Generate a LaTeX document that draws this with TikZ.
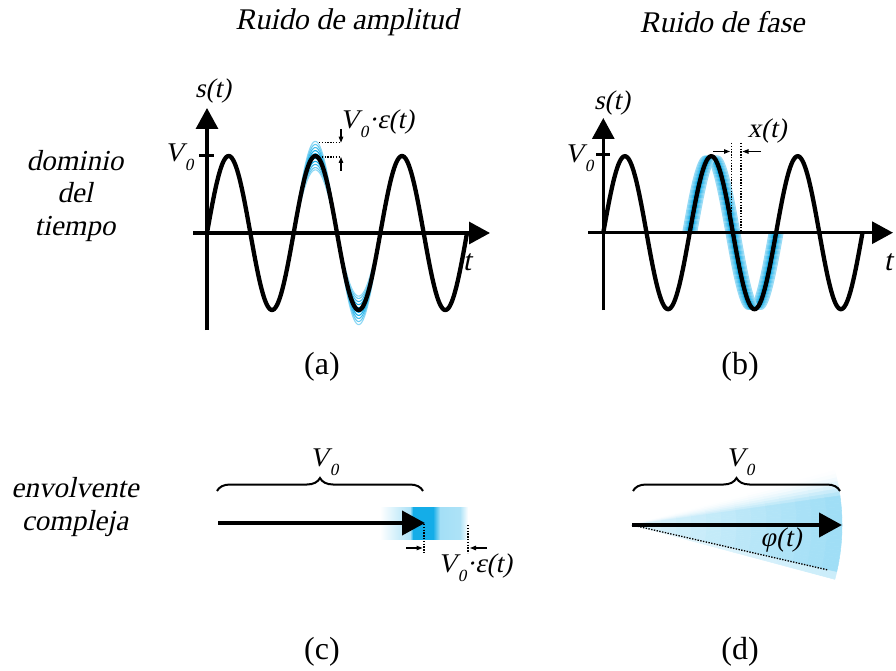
\documentclass[tikz,border=0pt]{standalone}
\usepackage{fontspec}
\setmainfont{Liberation Serif}[ItalicFont={Liberation Serif}, ItalicFeatures={FakeSlant=0.21}]
\usetikzlibrary{arrows.meta,decorations.pathreplacing}
\definecolor{nblue}{RGB}{0,166,230}
\newcommand{\Vz}{V\kern0.6pt\raisebox{-0.32em}{\fontsize{17}{17}\selectfont 0}}
\begin{document}
\begin{tikzpicture}[x=1pt,y=-1pt,
  axis/.style={line width=3.2pt,-{Triangle[length=21pt,width=22pt]}},
  wave/.style={line width=4.3pt},
  noisy/.style={line width=1.1pt},
  dots/.style={line width=1.3pt, dash pattern=on 1.4pt off 1.4pt},
  smallarr/.style={line width=1.1pt,-{Triangle[length=6pt,width=4.5pt]}},
  bigarr/.style={line width=4pt,-{Triangle[length=23pt,width=24pt]}},
  brc/.style={line width=2pt,decorate,decoration={brace,amplitude=13pt}},
  lbl/.style={inner sep=0pt, font=\fontsize{27}{30}\selectfont\itshape},
  title/.style={inner sep=0pt, font=\fontsize{30}{34}\selectfont\itshape},
  side/.style={inner sep=0pt, align=center, font=\fontsize{29}{32.5}\selectfont\itshape},
  panelcap/.style={inner sep=0pt, font=\fontsize{32}{36}\selectfont},
]
\useasboundingbox (0,0) rectangle (896,671);

% titles and side labels
\node[title] (t1) at (347,22) {Ruido de amplitud};
\node[title] (t2) at (722,22) {Ruido de fase};
\node[side] (dom) at (75,196) {dominio\\del\\tiempo};
\node[side] (env) at (75,507) {envolvente\\compleja};
\node[panelcap] (ca) at (322,367) {(a)};
\node[panelcap] (cb) at (740,367) {(b)};
\node[panelcap] (cc) at (322,652) {(c)};
\node[panelcap] (cd) at (740,652) {(d)};

% ---------- panel (a) ----------
\foreach \k/\c in {1.19/45,1.15/60,1.11/75,1.07/90,1.03/100,0.97/100,0.93/90,0.89/75,0.85/60,0.82/45}
  \draw[noisy,nblue!\c!white] plot[domain=360:720,samples=80,smooth,variable=\t] ({207+(\t/360)*86.67},{233-77*\k*sin(\t)});
\draw[wave] plot[domain=0:1080,samples=241,smooth,variable=\t] ({207+(\t/360)*86.67},{233-77*sin(\t)});
\draw[axis] (207,330) -- (207,108);
\draw[axis] (193,233) -- (490,233);
\draw[line width=3pt] (199,155.5) -- (214,155.5);
\node[lbl] (sa) at (213,91) {s(t)};
\node[lbl] (va) at (179,157) {\Vz};
\node[lbl,font=\fontsize{30}{32}\selectfont\itshape] (ta) at (467,262) {t};
\draw[dots] (319,142.7) -- (340,142.7);
\draw[dots] (319,157) -- (340,157);
\draw[smallarr] (341,129) -- (341,142.7);
\draw[smallarr] (341,171) -- (341,157);
\node[lbl] (ea) at (377,124) {\Vz·ε(t)};

% ---------- panel (b) ----------
\foreach \s/\c in {-7/40,-6/50,-5/60,-4/70,-3/85,-2/100,-1/100,1/100,2/100,3/85,4/70,5/60,6/50,7/40}
  \draw[noisy,nblue!\c!white] plot[domain=360:720,samples=80,smooth,variable=\t] ({603.3+\s+(\t/360)*86.4},{232.7-76.5*sin(\t)});
\draw[wave] plot[domain=0:1080,samples=241,smooth,variable=\t] ({603.3+(\t/360)*86.4},{232.7-76.5*sin(\t)});
\draw[axis] (603.3,310) -- (603.3,118);
\draw[axis] (588,232.7) -- (893,232.7);
\draw[line width=3pt] (596,155) -- (610,155);
\node[lbl] (sb) at (612,103) {s(t)};
\node[lbl] (vb) at (579,158) {\Vz};
\node[lbl,font=\fontsize{30}{32}\selectfont\itshape] (tb) at (888,262) {t};
\draw[dots] (731.7,143) -- (731.7,232);
\draw[dots] (741,143) -- (741,232);
\draw[smallarr] (713,151.5) -- (730,151.5);
\draw[smallarr] (761,151.5) -- (742.5,151.5);
\node[lbl] (xb) at (767,131) {x(t)};

% ---------- panel (c) ----------
\foreach \i in {0,...,87}{
  \pgfmathsetmacro\p{\i<30 ? 32*\i/30 : (\i<33 ? 32+(\i-30)*19 : (\i<53 ? 92 : (\i<60 ? 92-(\i-53)*8 : (\i<80 ? 36-(\i-60)*0.2 : 32*(88-\i)/8))))}
  \fill[nblue!\p!white] (380+\i,507) rectangle (381.3+\i,540);
}
\draw[brc] (217,491) -- (423,491);
\node[lbl] (vc) at (324,462) {\Vz};
\coordinate (c0) at (218,523);
\coordinate (c1) at (425,523);
\draw[bigarr] (c0) -- (c1);
\draw[dots] (424,524) -- (424,553);
\draw[dots] (468,525) -- (468,553);
\draw[smallarr] (406,548) -- (422.5,548);
\draw[smallarr] (487,548) -- (470,548);
\node[lbl] (ec) at (475,568) {\Vz·ε(t)};

% ---------- panel (d) ----------
\coordinate (o) at (632,525);
\foreach \a in {-16,...,14}{
  \pgfmathsetmacro\g{\a<-8 ? ((\a+16)/8)^2 : (\a<13 ? 1 : 0.55)}
  \foreach \r in {0,15,...,195}{
    \pgfmathsetmacro\p{38*\g*(0.35+0.65*(\r+7.5)/210)}
    \pgfmathsetmacro\aa{\a+1}
    \pgfmathsetmacro\rr{\r+15}
    \fill[nblue!\p!white,draw=nblue!\p!white,line width=0.5pt]
      ({632+\r*cos(\a)},{525+\r*sin(\a)}) -- ({632+\rr*cos(\a)},{525+\rr*sin(\a)})
      -- ({632+\rr*cos(\aa)},{525+\rr*sin(\aa)}) -- ({632+\r*cos(\aa)},{525+\r*sin(\aa)}) -- cycle;
  }
}
\draw[brc] (633,491) -- (840,491);
\node[lbl] (vd) at (740,462) {\Vz};
\coordinate (d1) at (842,525);
\coordinate (d2) at (828,570);
\draw[bigarr] (o) -- (d1);
\draw[dots] (o) -- (d2);
\node[lbl] (ph) at (781,540) {φ(t)};
\end{tikzpicture}
\end{document}
